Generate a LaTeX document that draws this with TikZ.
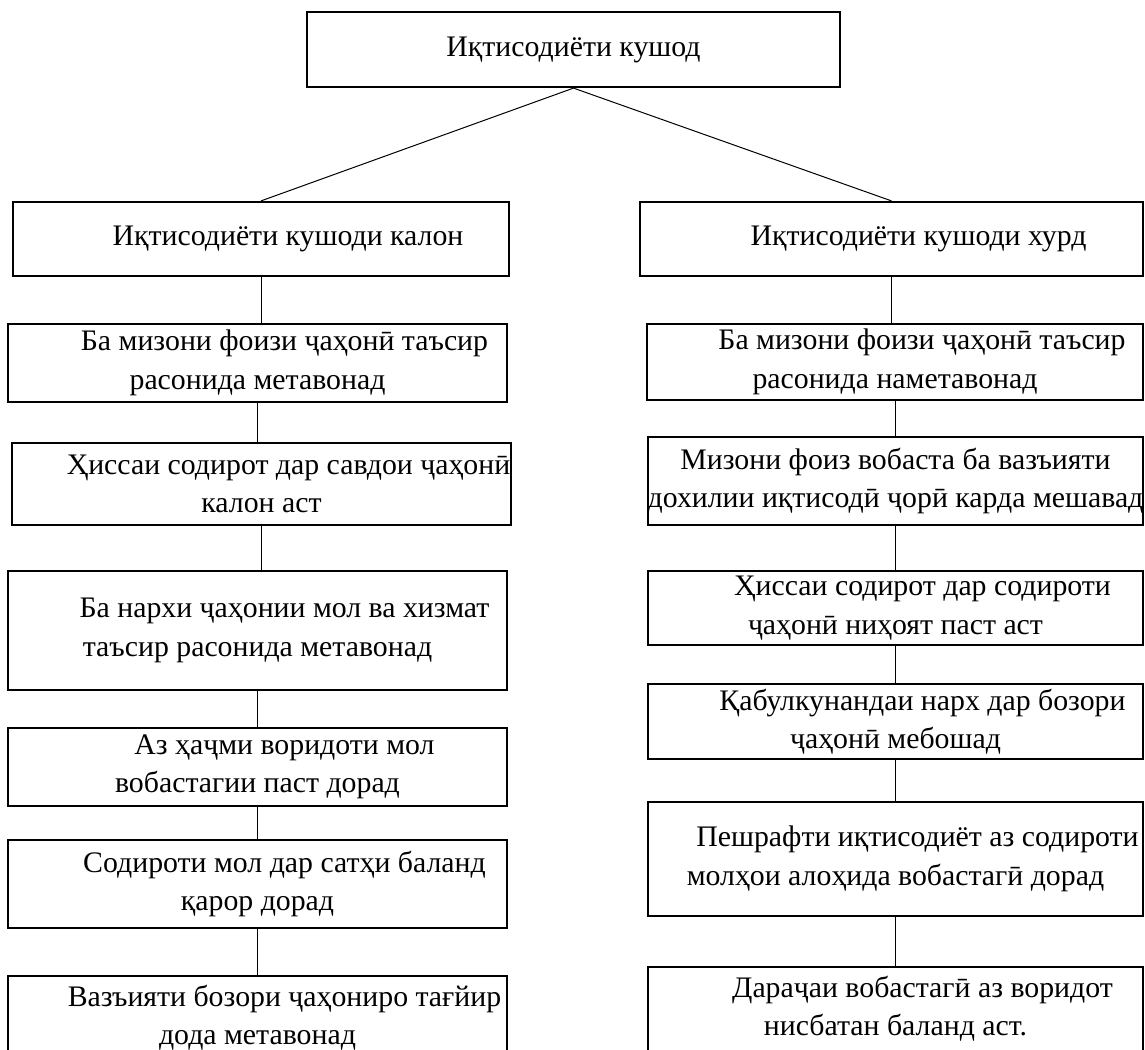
\documentclass[tikz,border=0pt]{standalone}
\usepackage{fontspec}
\setmainfont{Liberation Serif}
\usepackage{tikz}

\begin{document}
\begin{tikzpicture}[x=0.5pt,y=-0.5pt,font=\fontsize{14.9}{19.2}\selectfont,
    every node/.style={shape=rectangle,align=center,inner sep=0pt},
    box/.style={draw,line width=1.1pt},link/.style={line width=0.5pt}]
\useasboundingbox (0,0) rectangle (1145,1049);
\clip (0,0) rectangle (1145,1049);
      \node[box,minimum width=266.5pt,minimum height=37.5pt] (open) at (573.5,49.5) {Иқтисодиёти кушод};
      % left side
      \node[box,minimum width=248pt,minimum height=37pt] (big1) at (261,239) {\hspace*{27pt}Иқтисодиёти кушоди калон};
      \node[box,minimum width=249.5pt,minimum height=39pt] (big2) at (257.5,363) {\hspace*{27pt}Ба мизони фоизи ҷаҳонӣ таъсир\\расонида метавонад};
      \node[box,minimum width=249.5pt,minimum height=41pt] (big3) at (261.5,484) {\hspace*{27pt}Ҳиссаи содирот дар савдои ҷаҳонӣ\\калон аст};
      \node[box,minimum width=249.5pt,minimum height=59.5pt] (big4) at (257.5,630.5) {\hspace*{27pt}Ба нархи ҷаҳонии мол ва хизмат\\таъсир расонида метавонад};
      \node[box,minimum width=249.5pt,minimum height=39pt] (big5) at (257.5,767) {\hspace*{27pt}Аз ҳаҷми воридоти мол\\вобастагии паст дорад};
      \node[box,minimum width=249.5pt,minimum height=44pt] (big6) at (257.5,884) {\hspace*{27pt}Содироти мол дар сатҳи баланд\\қарор дорад};
      \node[box,minimum width=249.5pt,anchor=north,inner ysep=4.5pt,text depth=40pt] (big7) at (257.5,975) {\hspace*{27pt}Вазъияти бозори ҷаҳониро тағйир\\дода метавонад};
      % right side
      \node[box,minimum width=251.5pt,minimum height=37pt] (small1) at (891.5,239) {\hspace*{27pt}Иқтисодиёти кушоди хурд};
      \node[box,minimum width=248pt,minimum height=38pt] (small2) at (895,362) {\hspace*{27pt}Ба мизони фоизи ҷаҳонӣ таъсир\\расонида наметавонад};
      \node[box,minimum width=247.5pt,minimum height=44pt] (small3) at (895.5,481) {Мизони фоиз вобаста ба вазъияти\\дохилии иқтисодӣ ҷорӣ карда мешавад};
      \node[box,minimum width=247.5pt,minimum height=37pt] (small4) at (895.5,608) {\hspace*{27pt}Ҳиссаи содирот дар содироти\\ҷаҳонӣ ниҳоят паст аст};
      \node[box,minimum width=247.5pt,minimum height=37.5pt] (small5) at (895.5,721.5) {\hspace*{27pt}Қабулкунандаи нарх дар бозори\\ҷаҳонӣ мебошад};
      \node[box,minimum width=247.5pt,minimum height=57pt] (small6) at (895.5,859) {\hspace*{22pt}Пешрафти иқтисодиёт аз содироти\\молҳои алоҳида вобастагӣ дорад};
      \node[box,minimum width=247.5pt,anchor=north,inner ysep=4.5pt,text depth=40pt] (small7) at (895.5,966) {\hspace*{27pt}Дараҷаи вобастагӣ аз воридот\\нисбатан баланд аст.};
      % links
      \draw[link] (open.south) -- (big1.north);
      \draw[link] (open.south) -- (small1.north);
      \draw[link] (big1.south) -- (big1.south |- big2.north);
      \draw[link] (big2.south) -- (big2.south |- big3.north);
      \draw[link] (big3.south) -- (big3.south |- big4.north);
      \draw[link] (big4.south) -- (big4.south |- big5.north);
      \draw[link] (big5.south) -- (big5.south |- big6.north);
      \draw[link] (big6.south) -- (big6.south |- big7.north);
      \draw[link] (small1.south) -- (small1.south |- small2.north);
      \draw[link] (small2.south) -- (small2.south |- small3.north);
      \draw[link] (small3.south) -- (small3.south |- small4.north);
      \draw[link] (small4.south) -- (small4.south |- small5.north);
      \draw[link] (small5.south) -- (small5.south |- small6.north);
      \draw[link] (small6.south) -- (small6.south |- small7.north);
\end{tikzpicture}
\end{document}
